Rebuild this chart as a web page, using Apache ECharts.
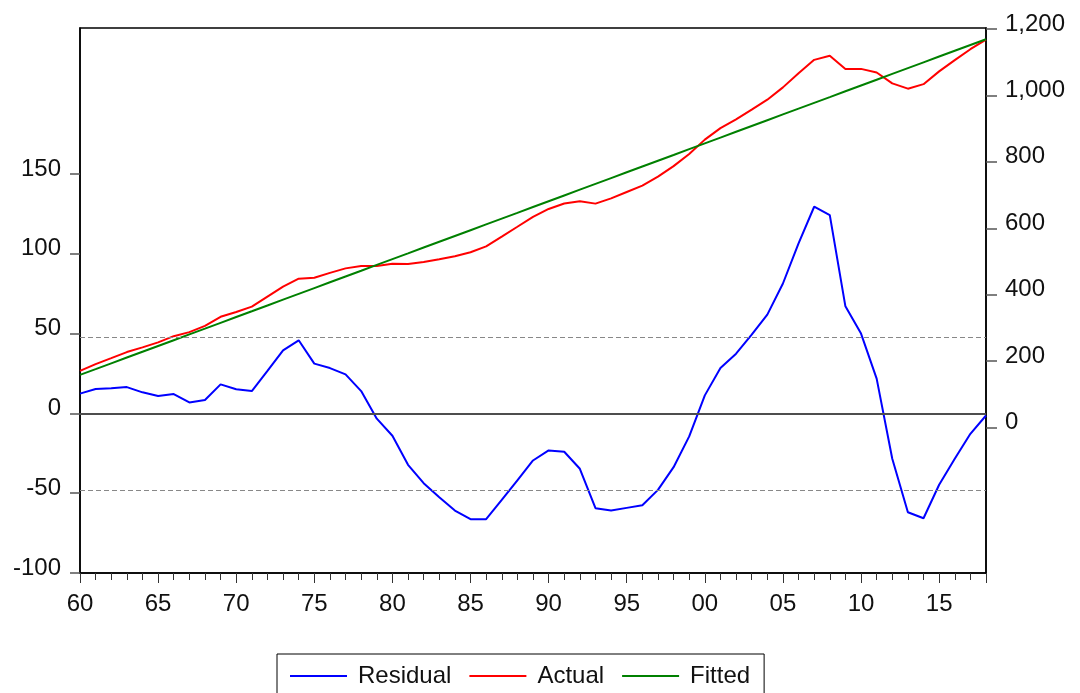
<!DOCTYPE html>
<html>
<head>
<meta charset="utf-8">
<script src="https://cdn.jsdelivr.net/npm/echarts@6/dist/echarts.min.js"></script>
<style>
  html, body { margin: 0; padding: 0; background: #fff; }
  #chart { width: 1080px; height: 693px; }
</style>
</head>
<body>
<div id="chart"></div>
<script>
const years = [1960, 1961, 1962, 1963, 1964, 1965, 1966, 1967, 1968, 1969,
  1970, 1971, 1972, 1973, 1974, 1975, 1976, 1977, 1978, 1979,
  1980, 1981, 1982, 1983, 1984, 1985, 1986, 1987, 1988, 1989,
  1990, 1991, 1992, 1993, 1994, 1995, 1996, 1997, 1998, 1999,
  2000, 2001, 2002, 2003, 2004, 2005, 2006, 2007, 2008, 2009,
  2010, 2011, 2012, 2013, 2014, 2015, 2016, 2017, 2018];

// residual (left axis)
const residual = [12.4, 15.3, 15.7, 16.5, 13.2, 10.9, 12.1, 6.9, 8.4, 18.2,
  15.1, 14.0, 26.6, 39.5, 45.8, 31.2, 28.4, 24.5, 14.0, -3.3,
  -14.0, -32.2, -43.7, -52.5, -60.9, -66.3, -66.3, -54.2, -41.9, -29.5,
  -23.2, -24.0, -34.7, -59.4, -60.9, -59.2, -57.5, -47.9, -33.7, -14.4,
  11.3, 28.4, 37.4, 49.4, 61.9, 81.4, 106.6, 129.5, 124.2, 67.1,
  50.0, 21.8, -28.4, -61.9, -65.7, -44.7, -28.4, -12.8, -1.3];

// actual and fitted (right axis)
const actual = [170.8, 191.1, 209.0, 227.2, 241.3, 256.5, 275.1, 287.3, 306.2, 333.5,
  347.8, 364.1, 394.2, 424.5, 448.2, 451.1, 465.7, 479.2, 486.1, 486.3,
  493.0, 492.2, 498.2, 506.8, 515.8, 527.9, 545.3, 574.8, 604.5, 634.4,
  658.1, 674.7, 681.5, 674.2, 690.1, 709.3, 728.4, 755.4, 787.0, 823.8,
  866.9, 901.4, 927.9, 957.3, 987.2, 1024.2, 1066.8, 1107.1, 1119.2, 1079.6,
  1079.9, 1069.1, 1036.4, 1020.3, 1033.9, 1072.4, 1106.1, 1139.1, 1168.0];

const fitted = [158.4, 175.8, 193.3, 210.7, 228.1, 245.6, 263.0, 280.4, 297.8, 315.3,
  332.7, 350.1, 367.6, 385.0, 402.4, 419.9, 437.3, 454.7, 472.1, 489.6,
  507.0, 524.4, 541.9, 559.3, 576.7, 594.2, 611.6, 629.0, 646.4, 663.9,
  681.3, 698.7, 716.2, 733.6, 751.0, 768.5, 785.9, 803.3, 820.7, 838.2,
  855.6, 873.0, 890.5, 907.9, 925.3, 942.8, 960.2, 977.6, 995.0, 1012.5,
  1029.9, 1047.3, 1064.8, 1082.2, 1099.6, 1117.1, 1134.5, 1151.9, 1169.3];

const leftTicks = [-100, -50, 0, 50, 100, 150];
const rightTicks = [0, 200, 400, 600, 800, 1000, 1200];
const bandLevel = 48; // +/- 1 s.e. dashed lines

const font = 'Liberation Sans, Arial, sans-serif';

function pairs(vals) {
  return years.map((y, i) => [y, vals[i]]);
}

let myChart = echarts.init(document.getElementById('chart'));
let option = {
  animation: false,
  backgroundColor: '#fff',
  textStyle: { fontFamily: font },
  grid: {
    left: 80,
    right: 94,
    top: 28,
    bottom: 120,
    show: true,
    borderColor: '#000',
    borderWidth: 1.5,
    backgroundColor: 'transparent'
  },
  legend: {
    left: 277,
    top: 654,
    padding: [10, 14, 30, 13],
    borderColor: '#000',
    borderWidth: 1,
    backgroundColor: '#fff',
    icon: 'rect',
    itemWidth: 57,
    itemHeight: 2,
    itemGap: 18,
    textStyle: {
      fontFamily: font,
      fontSize: 24,
      color: '#111',
      padding: [0, 0, 0, 6]
    },
    data: ['Residual', 'Actual', 'Fitted']
  },
  xAxis: [
    {
      // yearly minor ticks
      type: 'value',
      min: 1960,
      max: 2018,
      interval: 1,
      axisLine: { show: true, onZero: false, lineStyle: { color: '#000', width: 1.5 } },
      axisTick: { show: true, length: 7, lineStyle: { color: '#333', width: 1 } },
      axisLabel: { show: false },
      splitLine: { show: false }
    },
    {
      // 5-year major ticks + labels
      type: 'value',
      position: 'bottom',
      min: 1960,
      max: 2018,
      interval: 5,
      axisLine: { show: false, onZero: false },
      axisTick: { show: true, length: 10, lineStyle: { color: '#333', width: 1 } },
      axisLabel: {
        show: true,
        margin: 19,
        fontFamily: font,
        fontSize: 24,
        color: '#111',
        formatter: (v) => v % 5 === 0 ? String(v % 100).padStart(2, '0') : ''
      },
      splitLine: { show: false }
    }
  ],
  yAxis: [
    {
      type: 'value',
      position: 'left',
      min: -100,
      max: 241.5,
      axisLine: { show: true, lineStyle: { color: '#000', width: 1.5 } },
      axisTick: {
        show: true, length: 10, customValues: leftTicks,
        lineStyle: { color: '#555', width: 1.5 }
      },
      axisLabel: {
        show: true,
        margin: 19,
        fontFamily: font,
        fontSize: 24,
        color: '#111',
        verticalAlign: 'bottom',
        lineHeight: 10,
        customValues: leftTicks
      },
      splitLine: { show: false }
    },
    {
      type: 'value',
      position: 'right',
      min: -438,
      max: 1203,
      axisLine: { show: true, lineStyle: { color: '#000', width: 1.5 } },
      axisTick: {
        show: true, length: 11, customValues: rightTicks,
        lineStyle: { color: '#555', width: 1.5 }
      },
      axisLabel: {
        show: true,
        margin: 19,
        fontFamily: font,
        fontSize: 24,
        color: '#111',
        verticalAlign: 'bottom',
        lineHeight: 10,
        customValues: rightTicks,
        formatter: (v) => String(v).replace(/\B(?=(\d{3})+(?!\d))/g, ',')
      },
      splitLine: { show: false }
    }
  ],
  series: [
    {
      name: 'Residual',
      type: 'line',
      xAxisIndex: 0,
      yAxisIndex: 0,
      showSymbol: false,
      data: pairs(residual),
      lineStyle: { width: 2, color: '#0000ff' },
      itemStyle: { color: '#0000ff' },
      markLine: {
        silent: true,
        symbol: 'none',
        label: { show: false },
        data: [
          { yAxis: 0, lineStyle: { type: 'solid', color: '#4d4d4d', width: 2 } },
          { yAxis: bandLevel, lineStyle: { type: [5, 3], color: '#888', width: 1 } },
          { yAxis: -bandLevel, lineStyle: { type: [5, 3], color: '#888', width: 1 } }
        ]
      }
    },
    {
      name: 'Actual',
      type: 'line',
      xAxisIndex: 0,
      yAxisIndex: 1,
      showSymbol: false,
      data: pairs(actual),
      lineStyle: { width: 2, color: '#ff0000' },
      itemStyle: { color: '#ff0000' }
    },
    {
      name: 'Fitted',
      type: 'line',
      xAxisIndex: 0,
      yAxisIndex: 1,
      showSymbol: false,
      data: pairs(fitted),
      lineStyle: { width: 2, color: '#008000' },
      itemStyle: { color: '#008000' }
    }
  ]
};
myChart.setOption(option);
</script>
</body>
</html>
